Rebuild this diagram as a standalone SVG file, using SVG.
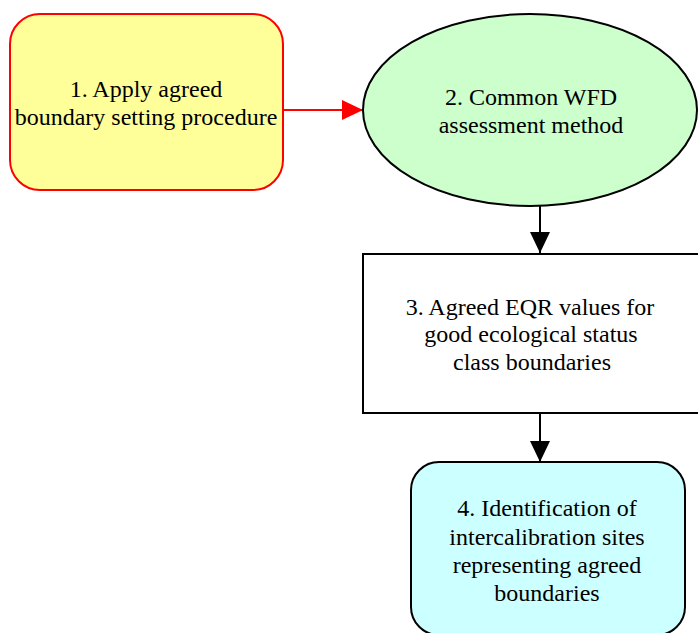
<svg xmlns="http://www.w3.org/2000/svg" width="698" height="633" viewBox="0 0 698 633">
<style>
text{font-family:"Liberation Serif","Times New Roman",serif;font-size:24px;fill:#000;text-anchor:middle}
.blk{stroke:#000;stroke-width:2}
.edge{fill:none;stroke-width:2}
</style>
<defs>
<marker id="ar" markerWidth="21" markerHeight="20" refX="21" refY="10" markerUnits="userSpaceOnUse" orient="auto"><path d="M0,0 L21,10 L0,20 Z" fill="#ff0000"/></marker>
<marker id="ab" markerWidth="21" markerHeight="20" refX="21" refY="10" markerUnits="userSpaceOnUse" orient="auto"><path d="M0,0 L21,10 L0,20 Z" fill="#000"/></marker>
</defs>
<rect width="698" height="633" fill="#fff"/>
<g id="connectors">
<path class="edge" d="M283,110 L363,110" stroke="#ff0000" marker-end="url(#ar)"/>
<path class="edge" d="M540,205 L540,253" stroke="#000" marker-end="url(#ab)"/>
<path class="edge" d="M540,413 L540,462" stroke="#000" marker-end="url(#ab)"/>
</g>
<g id="node1">
<rect x="10" y="14" width="273" height="176" rx="30" ry="30" fill="#ffff99" stroke="#ff0000" stroke-width="2"/>
<text x="146" y="97">1. Apply agreed</text>
<text x="146" y="125">boundary setting procedure</text>
</g>
<g id="node2">
<ellipse cx="530" cy="110" rx="167" ry="96" fill="#ccffcc" class="blk"/>
<text x="531" y="105">2. Common WFD</text>
<text x="531" y="133">assessment method</text>
</g>
<g id="node3">
<rect x="363" y="254" width="340" height="159" fill="#fff" class="blk"/>
<text x="530" y="315">3. Agreed EQR values for</text>
<text x="531" y="342">good ecological status</text>
<text x="532" y="370">class boundaries</text>
</g>
<g id="node4">
<rect x="411" y="462" width="274" height="173" rx="28" ry="28" fill="#ccffff" class="blk"/>
<text x="547" y="516">4. Identification of</text>
<text x="547" y="545">intercalibration sites</text>
<text x="547" y="573">representing agreed</text>
<text x="547" y="601">boundaries</text>
</g>
</svg>
